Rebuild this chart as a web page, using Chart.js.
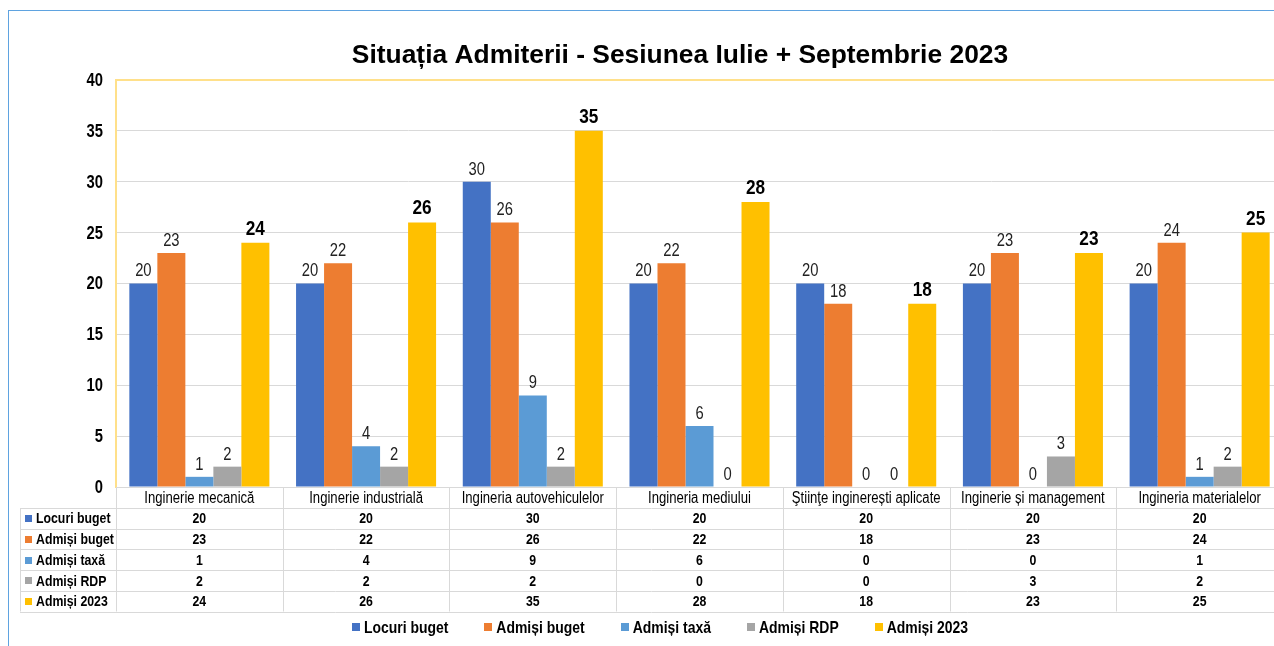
<!DOCTYPE html>
<html>
<head>
<meta charset="utf-8">
<script src="https://cdn.jsdelivr.net/npm/chart.js@4.4.0/dist/chart.umd.min.js"></script>
<style>
html,body{margin:0;padding:0;background:#fff;overflow:hidden;width:1274px;height:646px;}
#wrap{position:absolute;left:0;top:0;width:1360px;height:646px;}
#frame{position:absolute;left:8px;top:10px;width:1400px;height:700px;border:1px solid #5fa3e0;box-sizing:border-box;pointer-events:none;}
canvas{position:absolute;left:0;top:0;}
</style>
</head>
<body>
<div id="wrap"><canvas id="c" width="1360" height="646"></canvas></div>
<div id="frame"></div>
<script>
const categories = ['Inginerie mecanică','Inginerie industrială','Ingineria autovehiculelor','Ingineria mediului','Ştiinţe inginerești aplicate','Inginerie și management','Ingineria materialelor'];
const seriesNames = ['Locuri buget','Admiși buget','Admiși taxă','Admiși RDP','Admiși 2023'];
const locuriBuget = [20,20,30,20,20,20,20];
const admisiBuget = [23,22,26,22,18,23,24];
const admisiTaxa  = [1,4,9,6,0,0,1];
const admisiRDP   = [2,2,2,0,0,3,2];
const admisi2023  = [24,26,35,28,18,23,25];
const seriesColors = ['#4472c4','#ed7d31','#5b9bd5','#a5a5a5','#ffc000'];
const yMin = 0, yMax = 40, yStep = 5;
const titleText = 'Situația Admiterii - Sesiunea Iulie + Septembrie 2023';

const FONT = "'Liberation Sans',Arial,sans-serif";
const SQ = 0.82; // horizontal condensing to mimic a narrow face
const seriesValues = [locuriBuget, admisiBuget, admisiTaxa, admisiRDP, admisi2023];

const GOLD = '#ffe08a';
const GRID = '#d9d9d9';

function narrow(ctx, text, x, y, align) {
  ctx.save();
  ctx.translate(x, y);
  ctx.scale(SQ, 1);
  ctx.textAlign = align;
  ctx.fillText(text, 0, 0);
  ctx.restore();
}

const labelPlugin = {
  id: 'valueLabels',
  afterDatasetsDraw(chart) {
    const ctx = chart.ctx;
    ctx.save();
    ctx.textBaseline = 'alphabetic';
    chart.data.datasets.forEach((ds, di) => {
      const meta = chart.getDatasetMeta(di);
      const last = di === chart.data.datasets.length - 1;
      ctx.font = last ? "bold 21px " + FONT : "18px " + FONT;
      ctx.fillStyle = last ? '#000' : '#222';
      meta.data.forEach((el, i) => {
        narrow(ctx, String(ds.data[i]), el.x, el.y - (last ? 8 : 7), 'center');
      });
    });
    ctx.restore();
  }
};

const tablePlugin = {
  id: 'dataTable',
  afterDraw(chart) {
    const ctx = chart.ctx;
    const area = chart.chartArea;
    const xs = chart.scales.x;
    const ys = chart.scales.y;
    const n = categories.length;
    const colW = (area.right - area.left) / n;
    const top = area.bottom;
    const headH = 21;
    const rowH = 20.7;
    const leftX = 20;
    const bottom = top + headH + rowH * seriesNames.length;
    ctx.save();

    // y tick labels
    ctx.font = "bold 18px " + FONT;
    ctx.fillStyle = '#000';
    ctx.textBaseline = 'middle';
    ys.ticks.forEach(t => {
      narrow(ctx, String(t.value), area.left - 13, ys.getPixelForValue(t.value) + 1, 'right');
    });

    ctx.strokeStyle = GRID;
    ctx.lineWidth = 1;
    ctx.beginPath();
    ctx.moveTo(area.left, top + 0.5); ctx.lineTo(area.right, top + 0.5);
    for (let r = 0; r <= seriesNames.length; r++) {
      const y = Math.round(top + headH + r * rowH) + 0.5;
      ctx.moveTo(leftX, y); ctx.lineTo(area.right, y);
    }
    ctx.moveTo(leftX + 0.5, top + headH); ctx.lineTo(leftX + 0.5, bottom);
    for (let k = 0; k <= n; k++) {
      const x = Math.round(area.left + k * colW) + 0.5;
      ctx.moveTo(x, top); ctx.lineTo(x, bottom);
    }
    ctx.stroke();

    ctx.textBaseline = 'middle';
    ctx.fillStyle = '#000';
    ctx.font = "16px " + FONT;
    categories.forEach((c, i) => {
      narrow(ctx, c, xs.getPixelForValue(i), top + headH / 2 + 1, 'center');
    });
    ctx.font = "bold 15px " + FONT;
    seriesNames.forEach((s, r) => {
      const yc = top + headH + r * rowH + rowH / 2 + 1;
      ctx.fillStyle = seriesColors[r];
      ctx.fillRect(25, Math.round(yc - 4), 7, 7);
      ctx.fillStyle = '#000';
      narrow(ctx, s, 36, yc, 'left');
      seriesValues[r].forEach((v, i) => {
        narrow(ctx, String(v), xs.getPixelForValue(i), yc, 'center');
      });
    });

    // legend
    ctx.font = "bold 17px " + FONT;
    const box = 8, gap = 4, spacing = 36;
    const widths = seriesNames.map(s => ctx.measureText(s).width * SQ);
    const total = widths.reduce((a, w) => a + box + gap + w, 0) + spacing * (seriesNames.length - 1);
    let x = 660 - total / 2;
    const ly = 627;
    seriesNames.forEach((s, i) => {
      ctx.fillStyle = seriesColors[i];
      ctx.fillRect(Math.round(x), ly - 4, box, box);
      ctx.fillStyle = '#000';
      narrow(ctx, s, x + box + gap, ly + 1, 'left');
      x += box + gap + widths[i] + spacing;
    });
    ctx.restore();
  }
};

new Chart(document.getElementById('c'), {
  type: 'bar',
  data: {
    labels: categories,
    datasets: seriesNames.map((name, i) => ({
      label: name,
      data: seriesValues[i],
      backgroundColor: seriesColors[i],
      borderWidth: 0,
      categoryPercentage: 0.84,
      barPercentage: 1.0
    }))
  },
  options: {
    responsive: false,
    devicePixelRatio: 1,
    animation: false,
    layout: { padding: { left: 77, right: 77, top: 0, bottom: 159 } },
    plugins: {
      legend: { display: false },
      tooltip: { enabled: false },
      title: {
        display: true,
        text: titleText,
        color: '#000',
        font: { family: FONT, size: 26.4, weight: 'bold', lineHeight: 1.2 },
        padding: { top: 40, bottom: 8.3 }
      }
    },
    scales: {
      x: { display: false },
      y: {
        min: yMin, max: yMax,
        ticks: { stepSize: yStep, display: false },
        grid: { drawTicks: false, color: (c) => (c.tick && c.tick.value === yMax) ? GOLD : GRID, lineWidth: (c) => (c.tick && c.tick.value === yMax) ? 2 : 1 },
        border: { display: true, color: GOLD, width: 2 },
        afterFit(scale) { scale.width = 39; }
      }
    }
  },
  plugins: [labelPlugin, tablePlugin]
});
</script>
</body>
</html>
